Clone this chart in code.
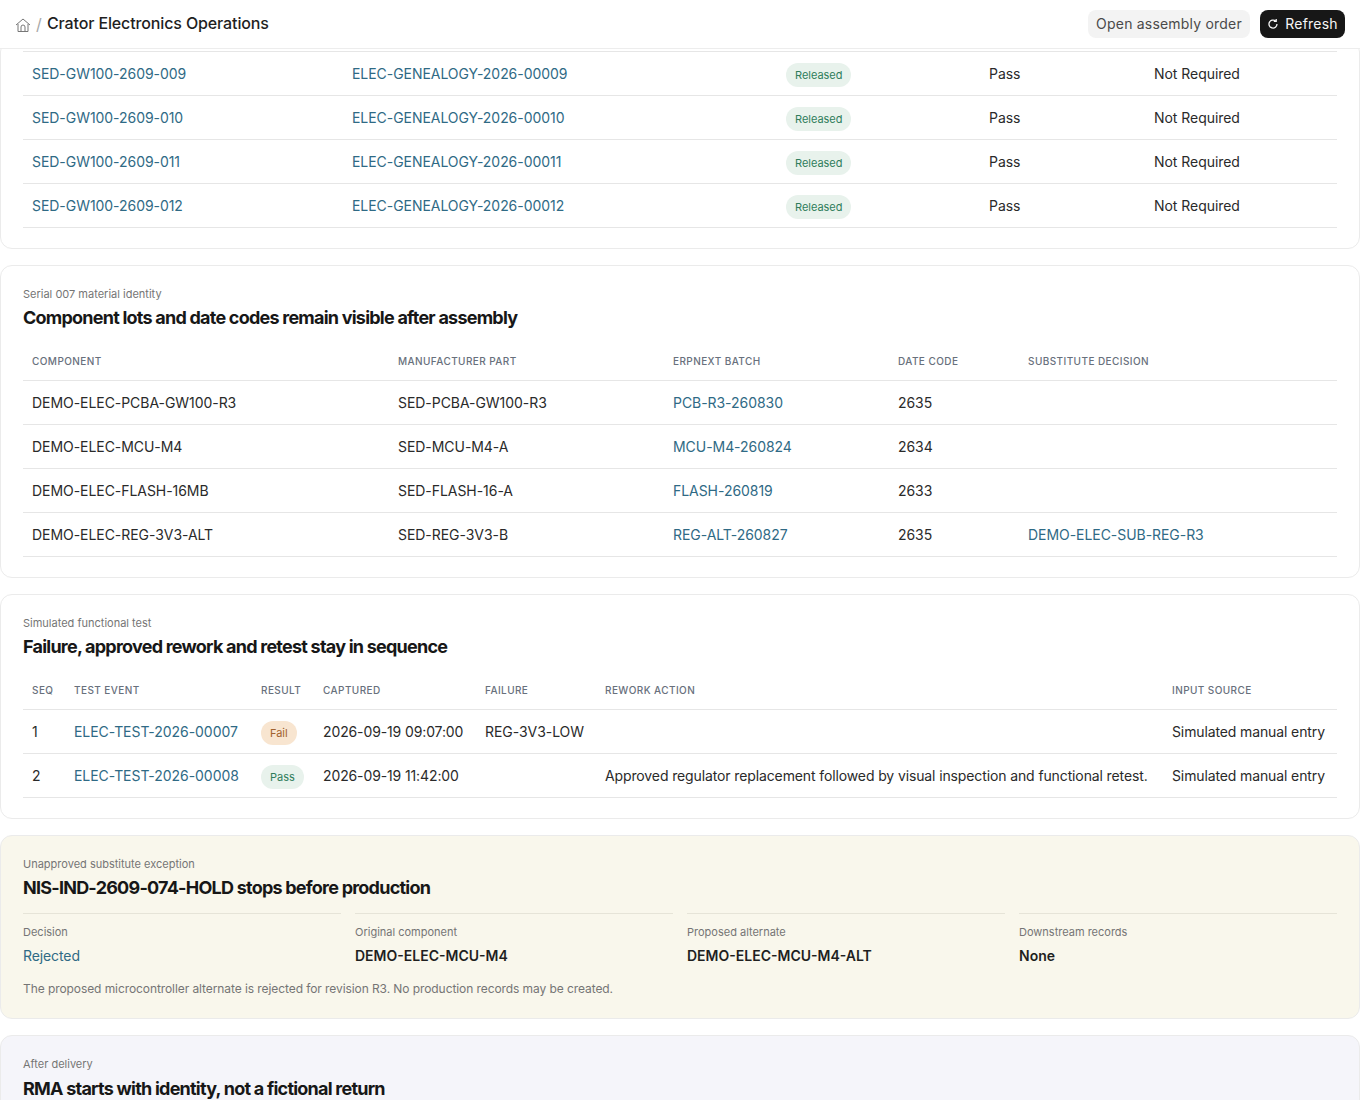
<!DOCTYPE html>
<html><head><meta charset="utf-8">
<script src="https://cdn.jsdelivr.net/npm/chart.js@4"></script>
<style>
*{box-sizing:border-box}
html,body{margin:0;padding:0;background:#fff;overflow:hidden}
body{font-family:Inter,sans-serif;color:#1f2024;font-size:14px;width:1360px;height:1100px;position:relative}
.hdr{position:absolute;left:0;top:0;width:1360px;height:49px;background:#fff;border-bottom:1px solid #ededed;z-index:5}
.hdr .home{position:absolute;left:15px;top:17px}
.hdr .sep{position:absolute;left:36px;top:14px;font-size:16px;color:#a8a8a8}
.hdr .ttl{position:absolute;left:47px;top:13px;font-size:16px;font-weight:500;color:#1f1f1f;line-height:20px;letter-spacing:-.13px}
.btn{position:absolute;top:10px;height:28px;border-radius:8px;font-size:14px;line-height:28px;text-align:center;letter-spacing:.2px}
.b1{left:1088px;width:162px;background:#f3f3f3;color:#4a4a4a}
.b2{left:1260px;width:85px;background:#171717;color:#f5f5f5;padding-left:18px}
.b2 svg{position:absolute;left:7px;top:8px}
.card{position:absolute;left:0;width:1360px;background:#fff;border:1px solid #ebebeb;border-radius:12px}
.eb{position:absolute;left:22px;font-size:11px;line-height:14px;color:#757575}
.t{position:absolute;left:22px;font-size:18px;line-height:24px;font-weight:650;color:#171717;letter-spacing:-.77px;white-space:nowrap}
table{position:absolute;left:22px;width:1314px;border-collapse:collapse;table-layout:fixed}
th{height:32px;font-size:10px;font-weight:500;color:#68707c;text-align:left;padding:0 0 6px 9px;letter-spacing:.42px;border-bottom:1px solid #e6e6e6;text-transform:uppercase;white-space:nowrap}
td{height:44px;padding:0 0 0 9px;border-bottom:1px solid #e6e6e6;white-space:nowrap;color:#2a2a2a;letter-spacing:-.05px}
td.lc{letter-spacing:-.12px}
a,.lk{color:#2f6a85;text-decoration:none}
.pill{display:inline-block;height:24px;line-height:24px;border-radius:12px;font-size:11px;padding:0 9px;margin-top:2px;vertical-align:middle;letter-spacing:-.03px}
.test .pill{margin-top:4px}
.good{background:#e8f2ec;color:#2f7d5b}
.bad{background:#f8e5d0;color:#a1622f}
.m{position:absolute;top:77px;width:318px;height:70px;border-top:1px solid #e6e4d8}
.m .l{position:absolute;top:11px;left:0;font-size:11px;line-height:14px;color:#757575}
.m .v{position:absolute;top:33px;left:0;font-size:14px;line-height:18px;font-weight:600;color:#1f1f1f}
.m .v.lk{font-weight:400;color:#2f6a85;letter-spacing:-.1px}
.note{position:absolute;left:22px;top:145px;font-size:12px;line-height:16px;color:#757575;letter-spacing:-.08px}
</style></head><body>
<div class="hdr">
<svg class="home" width="16" height="16" viewBox="0 0 16 16" fill="none" stroke="#777" stroke-width="1"><path d="M1 8 8 2l7 6"/><path d="M3 7v7.5h10V7"/><path d="M6 14.5V10a2 2 0 0 1 4 0v4.5"/></svg>
<span class="sep">/</span><span class="ttl">Crator Electronics Operations</span>
<div class="btn b1">Open assembly order</div>
<div class="btn b2"><svg width="12" height="12" viewBox="0 0 12 12" fill="none" stroke="#f5f5f5" stroke-width="1.3"><path d="M10 6a4 4 0 1 1-1.2-2.8"/><path d="M9.2 1v2.4H6.8"/></svg>Refresh</div>
</div>
<div id="root"></div>
<script>
const serialRows=[["SED-GW100-2609-009","ELEC-GENEALOGY-2026-00009"],["SED-GW100-2609-010","ELEC-GENEALOGY-2026-00010"],["SED-GW100-2609-011","ELEC-GENEALOGY-2026-00011"],["SED-GW100-2609-012","ELEC-GENEALOGY-2026-00012"]];
const serialStatus=["Released","Pass","Not Required"];
const componentHeaders=["Component","Manufacturer part","ERPNext batch","Date code","Substitute decision"];
const componentRows=[
["DEMO-ELEC-PCBA-GW100-R3","SED-PCBA-GW100-R3","PCB-R3-260830","2635",""],
["DEMO-ELEC-MCU-M4","SED-MCU-M4-A","MCU-M4-260824","2634",""],
["DEMO-ELEC-FLASH-16MB","SED-FLASH-16-A","FLASH-260819","2633",""],
["DEMO-ELEC-REG-3V3-ALT","SED-REG-3V3-B","REG-ALT-260827","2635","DEMO-ELEC-SUB-REG-R3"]];
const testHeaders=["Seq","Test event","Result","Captured","Failure","Rework action","Input source"];
const testRows=[
["1","ELEC-TEST-2026-00007","Fail","2026-09-19 09:07:00","REG-3V3-LOW","","Simulated manual entry"],
["2","ELEC-TEST-2026-00008","Pass","2026-09-19 11:42:00","","Approved regulator replacement followed by visual inspection and functional retest.","Simulated manual entry"]];
const holdMetrics=[["Decision","Rejected",true],["Original component","DEMO-ELEC-MCU-M4",false],["Proposed alternate","DEMO-ELEC-MCU-M4-ALT",false],["Downstream records","None",false]];

const cols=w=>'<colgroup>'+w.map(x=>`<col style="width:${x}px">`).join('')+'</colgroup>';
const link=s=>s?`<a>${s}</a>`:'';
const pill=s=>`<span class="pill ${s==='Fail'?'bad':'good'}">${s}</span>`;
const head=h=>'<tr>'+h.map(x=>`<th>${x}</th>`).join('')+'</tr>';
let h='';
h+=`<div class="card" style="top:40px;height:209px"><table style="top:10px;border-top:1px solid #e6e6e6">${cols([320,433,203,165,193])}`+
 serialRows.map(r=>`<tr><td>${link(r[0])}</td><td>${link(r[1])}</td><td style="padding-left:10px">${pill(serialStatus[0])}</td><td style="padding-left:10px">${serialStatus[1]}</td><td style="padding-left:10px">${serialStatus[2]}</td></tr>`).join('')+`</table></div>`;
h+=`<div class="card" style="top:265px;height:313px"><div class="eb" style="top:21px">Serial 007 material identity</div><div class="t" style="top:40px">Component lots and date codes remain visible after assembly</div><table style="top:82px">${cols([366,275,225,130,318])}${head(componentHeaders)}`+
 componentRows.map(r=>`<tr><td>${r[0]}</td><td>${r[1]}</td><td>${link(r[2])}</td><td>${r[3]}</td><td>${link(r[4])}</td></tr>`).join('')+`</table></div>`;
h+=`<div class="card" style="top:594px;height:225px"><div class="eb" style="top:21px">Simulated functional test</div><div class="t" style="top:40px">Failure, approved rework and retest stay in sequence</div><table class="test" style="top:82px">${cols([42,187,62,162,120,567,174])}${head(testHeaders)}`+
 testRows.map(r=>`<tr><td>${r[0]}</td><td>${link(r[1])}</td><td>${pill(r[2])}</td><td class="lc">${r[3]}</td><td>${r[4]}</td><td class="lc">${r[5]}</td><td class="lc">${r[6]}</td></tr>`).join('')+`</table></div>`;
h+=`<div class="card" style="top:835px;height:184px;background:#f9f7ec"><div class="eb" style="top:21px">Unapproved substitute exception</div><div class="t" style="top:40px">NIS-IND-2609-074-HOLD stops before production</div>`+
 holdMetrics.map((m,i)=>`<div class="m" style="left:${22+332*i}px"><div class="l">${m[0]}</div><div class="v ${m[2]?'lk':''}">${m[1]}</div></div>`).join('')+
 `<div class="note">The proposed microcontroller alternate is rejected for revision R3. No production records may be created.</div></div>`;
h+=`<div class="card" style="top:1035px;height:200px;background:#f5f5fa"><div class="eb" style="top:21px">After delivery</div><div class="t" style="top:41px">RMA starts with identity, not a fictional return</div></div>`;
document.getElementById('root').innerHTML=h;
</script>
</body></html>
